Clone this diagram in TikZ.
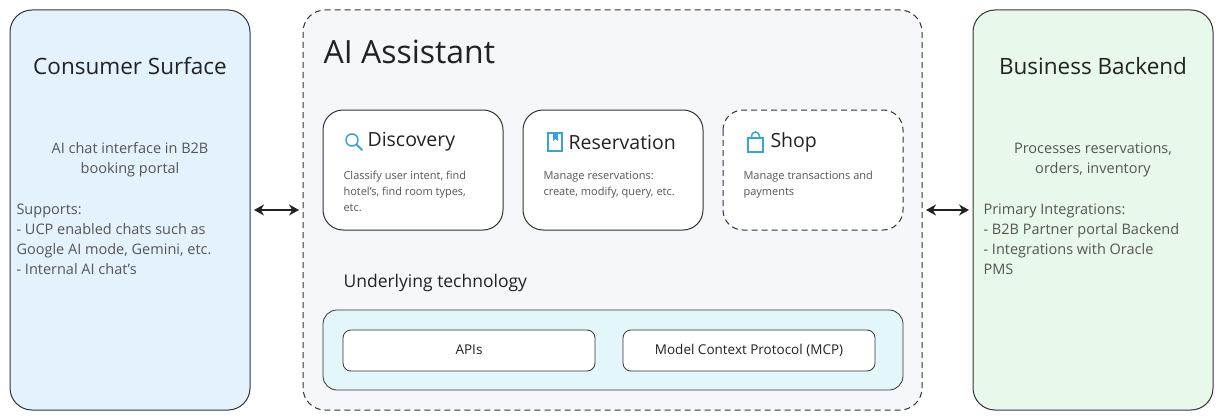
\documentclass[tikz,border=0pt]{standalone}
\usepackage{fontspec}
\setmainfont{Open Sans}
\usetikzlibrary{arrows.meta}
\definecolor{txt}{HTML}{222222}
\definecolor{gtxt}{HTML}{555555}
\definecolor{edge}{HTML}{333333}
\definecolor{icon}{HTML}{3AA3D6}
\definecolor{lblue}{HTML}{E3F2FD}
\definecolor{lgreen}{HTML}{E8F8EA}
\definecolor{lcyan}{HTML}{E3F6FA}
\definecolor{lgray}{HTML}{F6F7FA}
\begin{document}
\begin{tikzpicture}[x=1pt,y=-1pt,
  outer/.style={draw=edge,line width=1pt,rounded corners=22pt},
  card/.style={draw=edge,line width=1pt,fill=white,rounded corners=20pt},
  pill/.style={draw=edge,line width=0.8pt,fill=white,rounded corners=8pt},
  bigtitle/.style={font=\fontsize{22.5}{26}\selectfont,text=txt},
  body/.style={font=\fontsize{14.5}{20}\selectfont,text=gtxt,align=left},
  ctitle/.style={font=\fontsize{19.5}{22}\selectfont,text=txt,anchor=west},
  cdesc/.style={font=\fontsize{11}{16}\selectfont,text=gtxt,align=left,anchor=north west},
  biarrow/.style={{Stealth[length=10pt,width=11pt]}-{Stealth[length=10pt,width=11pt]},line width=1.4pt,draw=txt}]
\useasboundingbox (0,0) rectangle (1223,420);
% left
\draw[outer,fill=lblue] (10,10) rectangle (250,410);
\node[bigtitle] (lt) at (130,66) {Consumer Surface};
\node[body,align=center] (lb1) at (130,160) {AI chat interface in B2B\\booking portal};
\node[body,anchor=north west] (lb2) at (13,200) {Supports:\\- UCP enabled chats such as\\Google AI mode, Gemini, etc.\\- Internal AI chat's};
% middle
\draw[outer,dashed,dash pattern=on 6pt off 4pt,fill=lgray] (303,10) rectangle (922,410);
\coordinate (ml) at (303,210); \coordinate (mr) at (922,210);
\node[font=\fontsize{32}{36}\selectfont,text=txt,anchor=west] (mt) at (320,52) {AI Assistant};
% cards
\draw[card] (323,110) rectangle (503,230);
\draw[icon,line width=1.5pt] (352,140) circle (6pt);
\draw[icon,line width=2pt,line cap=round] (356.5,144.5) -- (362,150);
\node[ctitle] (d) at (364,142) {Discovery};
\node[cdesc] (dd) at (340,168) {Classify user intent, find\\hotel's, find room types,\\etc.};
\draw[card] (523,110) rectangle (703,230);
\draw[icon,line width=1.5pt] (548,133) rectangle (562,151);
\fill[icon] (553,133) -- (553,141) -- (555.5,139) -- (558,141) -- (558,133) -- cycle;
\node[ctitle] (r) at (565,142) {Reservation};
\node[cdesc] (rd) at (540,168) {Manage reservations:\\create, modify, query, etc.};
\draw[card,dashed,dash pattern=on 6pt off 4pt] (723,110) rectangle (903,230);
\draw[icon,line width=1.5pt] (748,138) rectangle (763,152);
\draw[icon,line width=1.5pt] (751.5,138) -- (751.5,136) arc (180:360:4) -- (759.5,138);
\node[ctitle] (s) at (767,142) {Shop};
\node[cdesc] (sd) at (740,168) {Manage transactions and\\payments};
% tech
\node[font=\fontsize{17.5}{20}\selectfont,text=txt,anchor=west] (ut) at (340,283) {Underlying technology};
\draw[draw=edge,line width=0.8pt,fill=lcyan,rounded corners=14pt] (323,310) rectangle (903,390);
\draw[pill] (343,330) rectangle (595,371);
\node[font=\fontsize{13.5}{16}\selectfont,text=txt] (api) at (469,350) {APIs};
\draw[pill] (623,330) rectangle (875,371);
\node[font=\fontsize{13.5}{16}\selectfont,text=txt] (mcp) at (749,350) {Model Context Protocol (MCP)};
% right
\draw[outer,fill=lgreen] (973,10) rectangle (1213,410);
\coordinate (ll) at (250,210); \coordinate (rl) at (973,210);
\node[bigtitle] (rt) at (1093,66) {Business Backend};
\node[body,align=center] (rb1) at (1093,160) {Processes reservations,\\orders, inventory};
\node[body,anchor=north west] (rb2) at (980,200) {Primary Integrations:\\- B2B Partner portal Backend\\- Integrations with Oracle\\PMS};
% arrows
\draw[biarrow] ([xshift=4pt]ll) -- ([xshift=-4pt]ml);
\draw[biarrow] ([xshift=4pt]mr) -- ([xshift=-4pt]rl);
\end{tikzpicture}
\end{document}
